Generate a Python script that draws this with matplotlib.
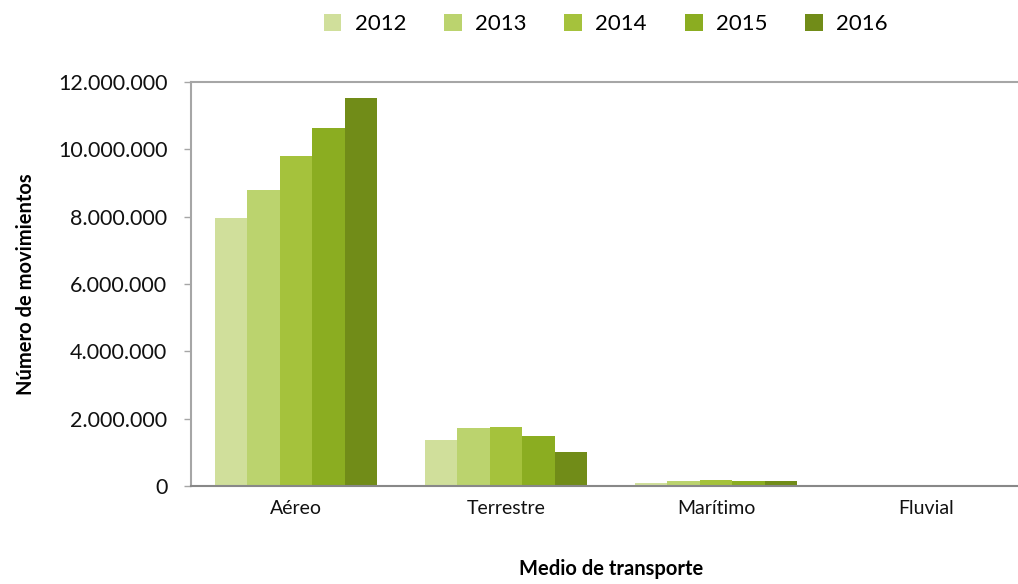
import matplotlib.pyplot as plt
import numpy as np
from matplotlib.ticker import FuncFormatter

plt.rcParams['font.family'] = ['Lato', 'DejaVu Sans']

medios = ['Aéreo', 'Terrestre', 'Marítimo', 'Fluvial']
anios = ['2012', '2013', '2014', '2015', '2016']
v2012 = [7950000, 1360000, 80000, 2000]
v2013 = [8790000, 1710000, 140000, 2000]
v2014 = [9800000, 1740000, 170000, 2000]
v2015 = [10630000, 1500000, 140000, 2000]
v2016 = [11520000, 1000000, 140000, 2000]
series = [v2012, v2013, v2014, v2015, v2016]
colores = ['#d0df9b', '#bbd36e', '#a5c23c', '#8bad21', '#718c18']

fig = plt.figure(figsize=(10.18, 5.84), dpi=100)
ax = fig.add_axes([191 / 1018, 98 / 584, 840 / 1018, 404 / 584])

x = np.arange(len(medios))
w = 0.77 / len(series)
for i, (vals, c) in enumerate(zip(series, colores)):
    ax.bar(x - 0.385 + w * (i + 0.5), vals, w, color=c, label=anios[i])

ax.set_xlim(-0.5, len(medios) - 0.5)
ax.set_ylim(0, 12000000)
ax.set_yticks(range(0, 12000001, 2000000))
ax.yaxis.set_major_formatter(FuncFormatter(lambda v, p: f'{int(v):,}'.replace(',', '.')))
ax.set_xticks(x)
ax.set_xticklabels(medios)
ax.tick_params(axis='x', length=0, pad=10, labelsize=14, colors='#111111')
ax.tick_params(axis='y', length=5, width=1, color='#a6a6a6', pad=12, labelsize=15.5, labelcolor='#111111')

for s in ['top', 'left', 'right']:
    ax.spines[s].set_color('#a6a6a6')
    ax.spines[s].set_linewidth(1.5)
ax.spines['bottom'].set_color('#888888')
ax.spines['bottom'].set_linewidth(1.5)

ax.set_ylabel('Número de movimientos', fontsize=14.5, fontweight='bold', labelpad=16)
ax.set_xlabel('Medio de transporte', fontsize=14.5, fontweight='bold', labelpad=30)

fig.legend(loc='upper center', bbox_to_anchor=(0.595, 1.01), ncol=5, frameon=False,
           fontsize=16, handlelength=0.8, handleheight=0.8, columnspacing=1.7,
           handletextpad=0.6)

fig.savefig('out.png', dpi=100)
